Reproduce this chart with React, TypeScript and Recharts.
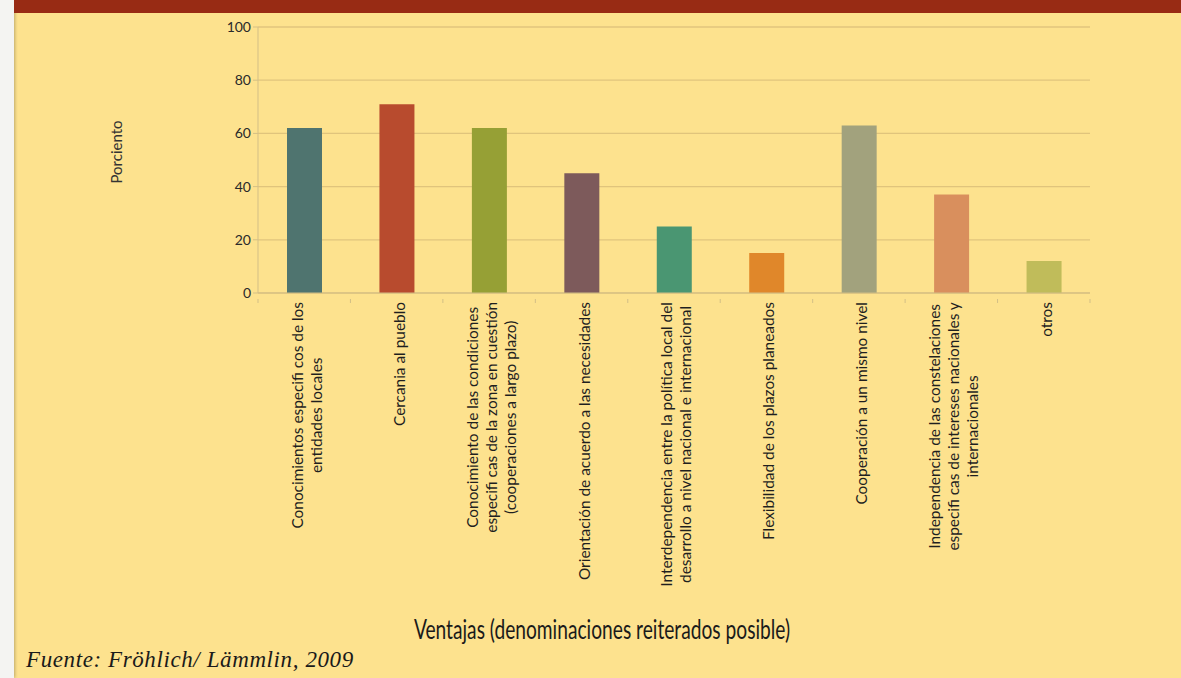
import React from 'react';
import { BarChart, Bar, XAxis, YAxis, CartesianGrid, Cell, Label } from 'recharts';

const categories: string[] = [
  'Conocimientos especifi cos de los\nentidades locales',
  'Cercania al pueblo',
  'Conocimiento de las condiciones\nespecifi cas de la zona en cuestión\n(cooperaciones a largo plazo)',
  'Orientación de acuerdo a las necesidades',
  'Interdependencia entre la política local del\ndesarrollo a nivel nacional e internacional',
  'Flexibilidad de los plazos planeados',
  'Cooperación a un mismo nivel',
  'Independencia de las constelaciones\nespecifi cas de intereses nacionales y\ninternacionales',
  'otros',
];
const values: number[] = [62, 71, 62, 45, 25, 15, 63, 37, 12];
const barColors: string[] = ['#4f746f', '#b84b2e', '#96a035', '#7d5a5b', '#4a9672', '#e0872a', '#a2a27d', '#d98f5d', '#c0bc5a'];
const yTicks: number[] = [0, 20, 40, 60, 80, 100];

const yLabelText = 'Porciento';
const xTitle = 'Ventajas (denominaciones reiterados posible)';
const sourceText = 'Fuente: Fröhlich/ Lämmlin, 2009';

const data = categories.map((c, i) => ({ name: c, value: values[i] }));

const W = 1181;
const H = 678;
const MARGIN = { top: 27, right: 91, left: 0, bottom: 85 };
const Y_AXIS_W = 258;
const X_AXIS_H = 300;
const PLOT_W = W - MARGIN.left - MARGIN.right - Y_AXIS_W;
const BAND = PLOT_W / categories.length;

const LABEL_FONT = "15.4px Lato, 'Open Sans', sans-serif";
let ctx: CanvasRenderingContext2D | null = null;
function measure(s: string): number {
  if (!ctx && typeof document !== 'undefined') {
    ctx = document.createElement('canvas').getContext('2d');
  }
  if (!ctx) return s.length * 7;
  ctx.font = LABEL_FONT;
  return ctx.measureText(s).width;
}

const XTick = (props: any) => {
  const { x, y, payload, index } = props;
  const lines: string[] = String(payload.value).split('\n');
  const maxW = Math.max(...lines.map(measure));
  const top = y + 1;
  const cy = top + maxW / 2;
  const lh = 19;
  const n = lines.length;
  const axisY = y - 2;
  return (
    <g>
      <line x1={x - BAND / 2} y1={axisY} x2={x - BAND / 2} y2={axisY + 4} stroke="#d3bf86" />
      {index === categories.length - 1 && (
        <line x1={x + BAND / 2} y1={axisY} x2={x + BAND / 2} y2={axisY + 4} stroke="#d3bf86" />
      )}
      {lines.map((ln, i) => {
        const lx = x + 2 + (i - (n - 1) / 2) * lh;
        return (
          <text
            key={i}
            x={lx}
            y={cy}
            transform={`rotate(-90 ${lx} ${cy})`}
            textAnchor="middle"
            dominantBaseline="central"
            style={{ font: LABEL_FONT, fill: '#1f1f1f' }}
          >
            {ln}
          </text>
        );
      })}
    </g>
  );
};

const YLabel = (props: any) => {
  const vb = props.viewBox || { x: 0, y: 0, width: 0, height: 0 };
  const cx = 116;
  const cy = vb.y + vb.height / 2 - 8;
  return (
    <text
      x={cx}
      y={cy}
      transform={`rotate(-90 ${cx} ${cy})`}
      textAnchor="middle"
      dominantBaseline="central"
      style={{ font: "15px Lato, 'Open Sans', sans-serif", fill: '#333' }}
    >
      {yLabelText}
    </text>
  );
};

export default function App() {
  return (
    <div style={{ position: 'absolute', left: 0, top: 0, width: W, height: H, background: '#fde28e', overflow: 'hidden' }}>
      <div style={{ position: 'absolute', left: 0, top: 0, width: 14, height: H, background: '#f4f4f2', boxShadow: '1px 0 3px rgba(0,0,0,0.25)' }} />
      <div style={{ position: 'absolute', left: 14, top: 0, width: W - 14, height: 13, background: '#982b14' }} />
      <div style={{ position: 'absolute', left: 0, top: 0 }}>
        <BarChart width={W} height={H} data={data} margin={MARGIN}>
          <CartesianGrid horizontal vertical={false} stroke="#e0c47c" strokeWidth={1.3} />
          <XAxis
            dataKey="name"
            interval={0}
            height={X_AXIS_H}
            tickLine={false}
            axisLine={{ stroke: '#d3bf86' }}
            tick={<XTick />}
          />
          <YAxis
            domain={[0, 100]}
            ticks={yTicks}
            width={Y_AXIS_W}
            tickLine={{ stroke: '#d3bf86' }}
            tickSize={5}
            axisLine={{ stroke: '#d3bf86' }}
            tick={{ fontSize: 14, fill: '#2a2a2a', fontFamily: "Lato, 'Open Sans', sans-serif" }}
          >
            <Label content={<YLabel />} />
          </YAxis>
          <Bar dataKey="value" barSize={35} isAnimationActive={false}>
            {data.map((d, i) => (
              <Cell key={i} fill={barColors[i]} />
            ))}
          </Bar>
        </BarChart>
      </div>
      <div
        style={{
          position: 'absolute',
          left: 302,
          width: 600,
          top: 613,
          textAlign: 'center',
          fontFamily: "Lato, 'Open Sans', sans-serif",
          fontSize: 27,
          lineHeight: '32px',
          color: '#1a1a1a',
          whiteSpace: 'nowrap',
          transform: 'scaleX(0.71)',
          transformOrigin: '300px 50%',
        }}
      >
        {xTitle}
      </div>
      <div
        style={{
          position: 'absolute',
          left: 26,
          top: 647,
          fontFamily: "'Liberation Serif', serif",
          fontStyle: 'italic',
          fontSize: 23,
          letterSpacing: 0.6,
          color: '#1a1a1a',
          whiteSpace: 'nowrap',
        }}
      >
        {sourceText}
      </div>
    </div>
  );
}
